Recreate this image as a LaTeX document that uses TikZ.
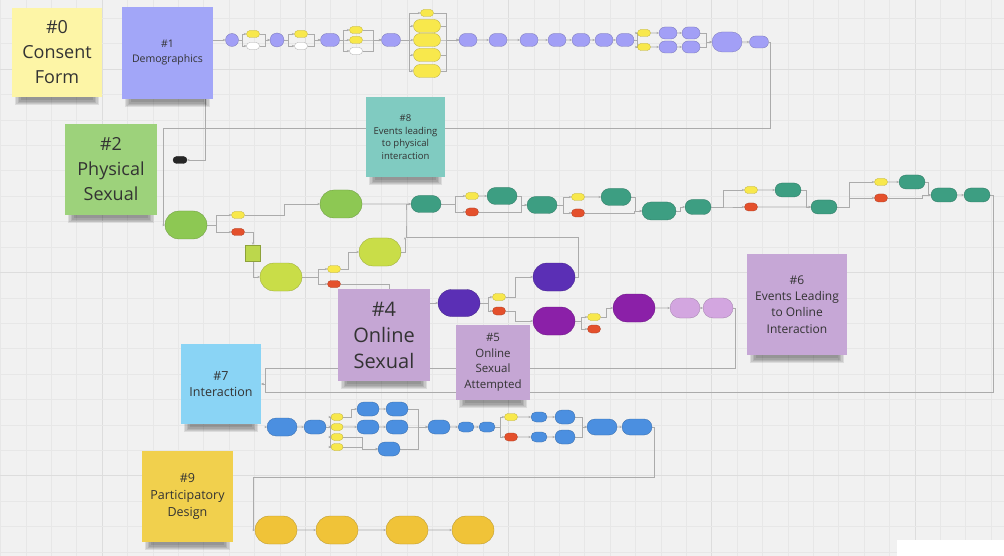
\documentclass[tikz,border=0pt]{standalone}
\usepackage{fontspec}
\setmainfont{Open Sans}
\usetikzlibrary{shapes.misc,shapes.geometric,calc,arrows.meta}
\definecolor{bgc}{HTML}{F1F1F1}
\definecolor{gridc}{HTML}{E7E7E7}
\definecolor{gridm}{HTML}{DDDDDD}
\definecolor{lnc}{HTML}{ABABAB}
\definecolor{txt}{HTML}{333333}
\definecolor{s0}{HTML}{FDF5A6}
\definecolor{s1}{HTML}{A2A6F8}
\definecolor{s2}{HTML}{9DD27B}
\definecolor{s8}{HTML}{80CBC1}
\definecolor{s4}{HTML}{C5A6D4}
\definecolor{s6}{HTML}{C6A7D6}
\definecolor{s7}{HTML}{8AD4F5}
\definecolor{s9}{HTML}{F1D04D}
\definecolor{pur}{HTML}{A29FF6}
\definecolor{yel}{HTML}{F8E84C}
\definecolor{redc}{HTML}{E4502C}
\definecolor{grn}{HTML}{8DC853}
\definecolor{lime}{HTML}{C9DD48}
\definecolor{teal}{HTML}{3D9E82}
\definecolor{dpur}{HTML}{5B2FB5}
\definecolor{mag}{HTML}{8B20A8}
\definecolor{lpur}{HTML}{D3A6E0}
\definecolor{blu}{HTML}{4B8FE0}
\definecolor{gold}{HTML}{F0C338}
\definecolor{blk}{HTML}{262626}
\definecolor{sqc}{HTML}{BCD74C}
\pgfdeclarelayer{bgl}
\pgfdeclarelayer{lines}
\pgfdeclarelayer{shad}
\pgfsetlayers{bgl,lines,shad,main}
\newcommand\stickyshadow[1]{%
  \foreach \k in {0,...,4} {\fill[black, opacity=0.09] ($(#1.south west)+(3+1.5*\k,-10)$) rectangle ($(#1.south east)+(-3-1.5*\k,8-1.2*\k)$);}}
\begin{document}
\begin{tikzpicture}[x=1pt,y=-1pt,
 conn/.style={draw=lnc, line width=0.6pt, -{Stealth[length=2.6pt,width=2.2pt]}},
 pill/.style 2 args={rounded rectangle, minimum width=#1, minimum height=#2, inner sep=0pt, outer sep=0pt},
 circ/.style={circle, minimum size=#1, inner sep=0pt, outer sep=0pt},
 fc/.style={fill=#1, draw=#1!75!black, line width=0.3pt},
 wht/.style={fill=white, draw=black!35, line width=0.3pt},
 sticky/.style={rectangle, inner sep=0pt, align=center, text=txt},
 sz/.style 2 args={minimum width=#1, minimum height=#2}
]
\useasboundingbox (0,0) rectangle (1004,556);
\begin{pgfonlayer}{bgl}
\fill[bgc] (0,0) rectangle (1004,556);
\foreach \i in {0,...,39} {\pgfmathtruncatemacro\mm{mod(\i,8)}
  \ifnum\mm=4 \draw[gridm, line width=0.7pt] (0.5+25.4*\i,0) -- (0.5+25.4*\i,556);
  \else \draw[gridc, line width=0.6pt] (0.5+25.4*\i,0) -- (0.5+25.4*\i,556);\fi}
\foreach \j in {0,...,21} {\pgfmathtruncatemacro\mm{mod(\j,8)}
  \ifnum\mm=2 \draw[gridm, line width=0.7pt] (0,18.4+25.4*\j) -- (1004,18.4+25.4*\j);
  \else \draw[gridc, line width=0.6pt] (0,18.4+25.4*\j) -- (1004,18.4+25.4*\j);\fi}
\fill[white] (897,540) rectangle (1004,556);
\end{pgfonlayer}

% ---------- top purple row ----------
\node[circ=13pt, fc=pur] (c1) at (232,40) {};
\node[pill={13pt}{7pt}, fc=yel] (py1) at (253,34) {};
\node[pill={13pt}{7pt}, wht] (pw1) at (253,46) {};
\node[circ=14pt, fc=pur] (c2) at (277,40) {};
\node[pill={13pt}{7pt}, fc=yel] (py2) at (301,34) {};
\node[pill={13pt}{7pt}, wht] (pw2) at (301,46) {};
\node[pill={19pt}{13pt}, fc=pur] (c3) at (330,40) {};
\node[pill={13pt}{7pt}, fc=yel] (py3) at (356,30) {};
\node[pill={13pt}{7pt}, fc=yel] (py4) at (356,40) {};
\node[pill={13pt}{7pt}, wht] (pw3) at (356,51) {};
\node[pill={19pt}{13pt}, fc=pur] (c4) at (391,40) {};
\node[pill={13pt}{7pt}, fc=yel] (q1) at (427,13) {};
\node[pill={27pt}{13pt}, fc=yel] (q2) at (427,26) {};
\node[pill={27pt}{13pt}, fc=yel] (q3) at (427,40) {};
\node[pill={27pt}{13pt}, fc=yel] (q4) at (427,55) {};
\node[pill={27pt}{13pt}, fc=yel] (q5) at (427,71) {};
\node[pill={18pt}{13pt}, fc=pur] (c5) at (468,40) {};
\node[pill={18pt}{13pt}, fc=pur] (c6) at (498,40) {};
\node[pill={18pt}{13pt}, fc=pur] (c7) at (529,40) {};
\node[pill={18pt}{13pt}, fc=pur] (c8) at (557,40) {};
\node[pill={18pt}{13pt}, fc=pur] (c9) at (581,40) {};
\node[pill={18pt}{13pt}, fc=pur] (c10) at (604,40) {};
\node[pill={18pt}{13pt}, fc=pur] (c11) at (625,40) {};
\node[pill={13pt}{7pt}, fc=yel] (y5) at (644,33) {};
\node[pill={13pt}{7pt}, fc=yel] (y6) at (644,47) {};
\node[pill={18pt}{12pt}, fc=pur] (d1) at (668,33) {};
\node[pill={18pt}{12pt}, fc=pur] (d2) at (668,47) {};
\node[pill={18pt}{12pt}, fc=pur] (d3) at (691,33) {};
\node[pill={18pt}{12pt}, fc=pur] (d4) at (691,47) {};
\node[pill={30pt}{20pt}, fc=pur] (c12) at (727,42) {};
\node[pill={19pt}{12pt}, fc=pur] (c13) at (759,42) {};

% ---------- green / lime ----------
\node[pill={14pt}{7pt}, fc=blk] (blk) at (180,160) {};
\node[pill={42pt}{28pt}, fc=grn] (g1) at (186,225) {};
\node[pill={13pt}{7pt}, fc=yel] (gy1) at (238,215) {};
\node[pill={13pt}{7pt}, fc=redc] (gr1) at (238,232) {};
\node[pill={42pt}{28pt}, fc=grn] (g2) at (341,204) {};
\node[rectangle, inner sep=0pt, sz={15pt}{16pt}, fc=sqc] (sq1) at (253,253) {};
\node[pill={42pt}{28pt}, fc=lime] (lm1) at (281,277) {};
\node[pill={13pt}{7pt}, fc=yel] (ly1) at (334,269) {};
\node[pill={13pt}{7pt}, fc=redc] (lr1) at (334,284) {};
\node[pill={42pt}{28pt}, fc=lime] (lm2) at (380,252) {};

% ---------- teal row ----------
\node[pill={30pt}{17pt}, fc=teal] (tA) at (426,204) {};
\node[pill={13pt}{7pt}, fc=yel] (ty1) at (472,196) {};
\node[pill={13pt}{8pt}, fc=redc] (tr1) at (472,212) {};
\node[pill={30pt}{17pt}, fc=teal] (tB) at (502,196) {};
\node[pill={30pt}{17pt}, fc=teal] (tC) at (542,205) {};
\node[pill={13pt}{7pt}, fc=yel] (ty2) at (578,197) {};
\node[pill={13pt}{8pt}, fc=redc] (tr2) at (578,213) {};
\node[pill={30pt}{17pt}, fc=teal] (tD) at (616,197) {};
\node[pill={34pt}{18pt}, fc=teal] (tE) at (659,211) {};
\node[pill={26pt}{15pt}, fc=teal] (tF) at (698,207) {};
\node[pill={13pt}{7pt}, fc=yel] (ty3) at (751,190) {};
\node[pill={13pt}{8pt}, fc=redc] (tr3) at (751,207) {};
\node[pill={26pt}{14pt}, fc=teal] (tG) at (788,190) {};
\node[pill={26pt}{14pt}, fc=teal] (tH) at (824,207) {};
\node[pill={13pt}{7pt}, fc=yel] (ty4) at (881,182) {};
\node[pill={13pt}{8pt}, fc=redc] (tr4) at (881,198) {};
\node[pill={26pt}{14pt}, fc=teal] (tI) at (912,182) {};
\node[pill={26pt}{14pt}, fc=teal] (tJ) at (944,195) {};
\node[pill={26pt}{14pt}, fc=teal] (tK) at (977,195) {};

% ---------- purple online ----------
\node[pill={42pt}{27pt}, fc=dpur] (p1) at (459,303) {};
\node[pill={13pt}{7pt}, fc=yel] (pY1) at (499,297) {};
\node[pill={13pt}{8pt}, fc=redc] (pR1) at (499,311) {};
\node[pill={42pt}{28pt}, fc=dpur] (p2) at (554,277) {};
\node[pill={42pt}{28pt}, fc=mag] (p3) at (554,321) {};
\node[pill={13pt}{7pt}, fc=yel] (pY2) at (594,317) {};
\node[pill={13pt}{8pt}, fc=redc] (pR2) at (594,329) {};
\node[pill={42pt}{28pt}, fc=mag] (p4) at (634,308) {};
\node[pill={30pt}{20pt}, fc=lpur] (L1) at (685,308) {};
\node[pill={30pt}{20pt}, fc=lpur] (L2) at (718,308) {};

% ---------- blue ----------
\coordinate (bs) at (266,427);
\node[pill={30pt}{18pt}, fc=blu] (b1) at (282,427) {};
\node[pill={22pt}{14pt}, fc=blu] (b2) at (315,427) {};
\node[pill={12pt}{7pt}, fc=yel] (bq1) at (337,417) {};
\node[pill={12pt}{7pt}, fc=yel] (bq2) at (337,427) {};
\node[pill={12pt}{7pt}, fc=yel] (bq3) at (337,437) {};
\node[pill={12pt}{7pt}, fc=yel] (bq4) at (337,447) {};
\node[pill={22pt}{14pt}, fc=blu] (b3) at (368,409) {};
\node[pill={22pt}{14pt}, fc=blu] (b4) at (397,409) {};
\node[pill={22pt}{14pt}, fc=blu] (b5) at (368,427) {};
\node[pill={22pt}{14pt}, fc=blu] (b6) at (397,427) {};
\node[pill={22pt}{14pt}, fc=blu] (b7) at (389,449) {};
\node[pill={22pt}{14pt}, fc=blu] (b8) at (439,427) {};
\node[pill={16pt}{10pt}, fc=blu] (b9) at (466,427) {};
\node[pill={16pt}{10pt}, fc=blu] (b10) at (487,427) {};
\node[pill={13pt}{7pt}, fc=yel] (bY) at (511,417) {};
\node[pill={13pt}{8pt}, fc=redc] (bR) at (511,437) {};
\node[pill={16pt}{10pt}, fc=blu] (b11) at (539,417) {};
\node[pill={20pt}{14pt}, fc=blu] (b12) at (565,417) {};
\node[pill={16pt}{10pt}, fc=blu] (b13) at (539,437) {};
\node[pill={20pt}{14pt}, fc=blu] (b14) at (565,437) {};
\node[pill={30pt}{16pt}, fc=blu] (b15) at (602,427) {};
\node[pill={30pt}{16pt}, fc=blu] (b16) at (637,427) {};

% ---------- gold ----------
\node[pill={42pt}{28pt}, fc=gold] (Y1) at (276,530) {};
\node[pill={42pt}{28pt}, fc=gold] (Y2) at (337,530) {};
\node[pill={42pt}{28pt}, fc=gold] (Y3) at (407,530) {};
\node[pill={42pt}{28pt}, fc=gold] (Y4) at (473,530) {};

% ---------- sticky notes ----------
\node[sticky, fill=s0, sz={90pt}{89pt}, font=\fontsize{18}{25}\selectfont] (n0) at (57,52.5) {\#0\\Consent\\Form};
\node[sticky, fill=s1, sz={91pt}{92pt}, font=\fontsize{10.5}{15}\selectfont] (n1) at (167.5,53) {\#1\\Demographics};
\node[sticky, fill=s2, sz={92pt}{91pt}, font=\fontsize{18}{25}\selectfont] (n2) at (111,169.5) {\#2\\Physical\\Sexual};
\node[sticky, fill=s8, sz={79pt}{80pt}, font=\fontsize{9.5}{12.7}\selectfont] (n8) at (405.5,137) {\#8\\Events leading\\to physical\\interaction};
\node[sticky, fill=s4, sz={92pt}{92pt}, font=\fontsize{20}{26}\selectfont] (n4) at (384,335) {\#4\\Online\\Sexual};
\node[sticky, fill=s4, sz={74pt}{75pt}, font=\fontsize{11.5}{15.5}\selectfont] (n5) at (493,362.5) {\#5\\Online\\Sexual\\Attempted};
\node[sticky, fill=s6, sz={100pt}{101pt}, font=\fontsize{12}{16.2}\selectfont] (n6) at (797,304.5) {\#6\\Events Leading\\to Online\\Interaction};
\node[sticky, fill=s7, sz={80pt}{80pt}, font=\fontsize{12.5}{16.5}\selectfont] (n7) at (221,384) {\#7\\Interaction};
\node[sticky, fill=s9, sz={91pt}{91pt}, font=\fontsize{12.5}{17}\selectfont] (n9) at (187.5,496.5) {\#9\\Participatory\\Design};

\begin{pgfonlayer}{shad}
\foreach \s in {n0,n1,n2,n8,n4,n5,n6,n7,n9} {\stickyshadow{\s}}
\end{pgfonlayer}

% ---------- connectors ----------
\begin{pgfonlayer}{lines}
% top row
\draw[conn] (n1.east |- c1.west) -- (c1.west);
\foreach \t in {py1,pw1} {\draw[conn] (c1.east) -- ++(4,0) |- (\t.west);}
\foreach \t in {py1,pw1} {\draw[conn] (\t.east) -| ($(c2.west)+(-5,0)$) -- (c2.west);}
\foreach \t in {py2,pw2} {\draw[conn] (c2.east) -- ++(4,0) |- (\t.west);}
\foreach \t in {py2,pw2} {\draw[conn] (\t.east) -| ($(c3.west)+(-6,0)$) -- (c3.west);}
\foreach \t in {py3,py4,pw3} {\draw[conn] (c3.east) -- ++(4,0) |- (\t.west);}
\foreach \t in {py3,py4,pw3} {\draw[conn] (\t.east) -| ($(c4.west)+(-8,0)$) -- (c4.west);}
\foreach \t in {q1,q2,q3,q4,q5} {\draw[conn] (c4.east) -- ++(9,0) |- (\t.west);}
\foreach \t in {q1,q2,q3,q4,q5} {\draw[conn] (\t.east) -| ($(c5.west)+(-13,0)$) -- (c5.west);}
\draw[conn] (c5) -- (c6);
\draw[conn] (c6) -- (c7);
\draw[conn] (c7) -- (c8);
\draw[conn] (c8) -- (c9);
\draw[conn] (c9) -- (c10);
\draw[conn] (c10) -- (c11);
\foreach \t in {y5,y6} {\draw[conn] (c11.east) -- ++(3,0) |- (\t.west);}
\draw[conn] (y5) -- (d1);
\draw[conn] (y6) -- (d2);
\draw[conn] (d1) -- (d3);
\draw[conn] (d2) -- (d4);
\foreach \t in {d3,d4} {\draw[conn] (\t.east) -| ($(c12.west)+(-6,0)$) -- (c12.west);}
\draw[conn] (c12) -- (c13);
\draw[conn] (c13.east) -| (770,128) -- (163,128) |- (g1.west);
\draw[conn] ($(n1.south west)+(83,0)$) |- (blk.east);
% green / lime
\foreach \t in {gy1,gr1} {\draw[conn] (g1.east) -- ++(9,0) |- (\t.west);}
\draw[conn] (gy1.east) -| (284,204) -- (g2.west);
\draw[conn] (gr1.east) -| (sq1.north);
\draw[conn] (sq1.south) |- (lm1.west);
\foreach \t in {ly1,lr1} {\draw[conn] (lm1.east) -- ++(16,0) |- (\t.west);}
\draw[conn] (ly1.east) -- ++(8,0) |- (lm2.west);
\draw[conn] (lr1.east) -| (389,303) -- (p1.west);
\draw[conn] (lm2.east) -| (405,237);
\draw[conn] (g2) -- (tA);
\draw[conn] (p2.east) -| (578,237) -| (406,215) |- (tA.west);
% teal
\foreach \t in {ty1,tr1} {\draw[conn] (tA.east) -- ++(14,0) |- (\t.west);}
\draw[conn] (ty1) -- (tB);
\draw[conn] (tB.east) -- ++(4,0) |- (tC.west);
\draw[conn] (tr1.east) -- ++(43,0) |- (tC.west);
\foreach \t in {ty2,tr2} {\draw[conn] (tC.east) -- ++(6,0) |- (\t.west);}
\draw[conn] (ty2) -- (tD);
\draw[conn] (tD.east) -- ++(4,0) |- (tE.west);
\draw[conn] (tr2.east) -- ++(50,0) |- (tE.west);
\draw[conn] (tE.east) -- ++(4,0) |- (tF.west);
\foreach \t in {ty3,tr3} {\draw[conn] (tF.east) -- ++(12,0) |- (\t.west);}
\draw[conn] (ty3) -- (tG);
\draw[conn] (tG.east) -- ++(5,0) |- (tH.west);
\draw[conn] (tr3) -- (tH);
\foreach \t in {ty4,tr4} {\draw[conn] (tH.east) -- ++(12,0) |- (\t.west);}
\draw[conn] (ty4) -- (tI);
\draw[conn] (tI.east) -- ++(3,0) |- (tJ.west);
\draw[conn] (tr4.east) -- ++(35,0) |- (tJ.west);
\draw[conn] (tJ) -- (tK);
\draw[conn] (tK.east) -| (993,392) -- (265,392) |- (n7.east);
% purple
\foreach \t in {pY1,pR1} {\draw[conn] (p1.east) -- ++(8,0) |- (\t.west);}
\draw[conn] (pY1.east) -- ++(10,0) |- (p2.west);
\draw[conn] (pR1.east) -- ++(10,0) |- (p3.west);
\foreach \t in {pY2,pR2} {\draw[conn] (p3.east) -- ++(6,0) |- (\t.west);}
\draw[conn] (pY2.east) -- ++(6,0) |- (p4.west);
\draw[conn] (p4) -- (L1);
\draw[conn] (L1) -- (L2);
\draw[conn] (L2.east) -| (735,368) -- (265,368) |- (n7.east);
% blue
\draw[conn] (bs) -- (b1.west);
\draw[conn] (b1) -- (b2);
\foreach \t in {bq1,bq2,bq3,bq4} {\draw[conn] (b2.east) -- ++(4,0) |- (\t.west);}
\draw[conn] (bq1.east) -- ++(8,0) |- (b3.west);
\draw[conn] (bq2) -- (b5);
\draw[conn] (bq3.east) -- ++(19,0) |- (b7.west);
\draw[conn] (bq4.east) -- ++(19,0) |- (b7.west);
\draw[conn] (b3) -- (b4);
\draw[conn] (b5) -- (b6);
\foreach \t in {b4,b6,b7} {\draw[conn] (\t.east) -| ($(b8.west)+(-10,0)$) -- (b8.west);}
\draw[conn] (b8) -- (b9);
\draw[conn] (b9) -- (b10);
\foreach \t in {bY,bR} {\draw[conn] (b10.east) -- ++(5,0) |- (\t.west);}
\draw[conn] (bY) -- (b11);
\draw[conn] (b11) -- (b12);
\draw[conn] (bR) -- (b13);
\draw[conn] (b13) -- (b14);
\foreach \t in {b12,b14} {\draw[conn] (\t.east) -| ($(b15.west)+(-5,0)$) -- (b15.west);}
\draw[conn] (b15) -- (b16);
\draw[conn] (b16.east) -| (654,477) -- (253,477) |- (Y1.west);
% gold
\draw[conn] (Y1) -- (Y2);
\draw[conn] (Y2) -- (Y3);
\draw[conn] (Y3) -- (Y4);
\end{pgfonlayer}
\end{tikzpicture}
\end{document}
